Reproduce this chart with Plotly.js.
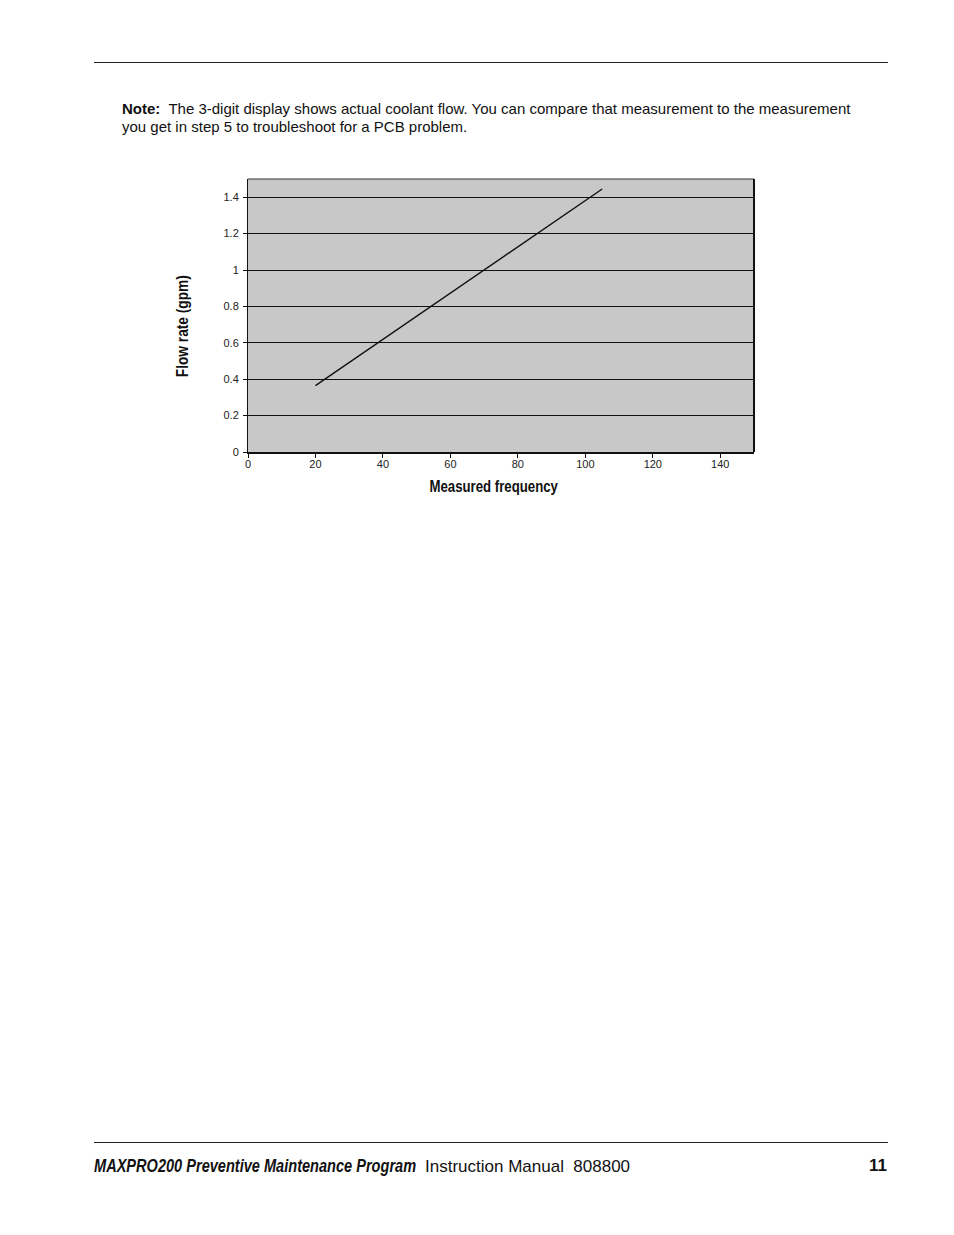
<!DOCTYPE html>
<html>
<head>
<meta charset="utf-8">
<script src="https://cdn.plot.ly/plotly-3.0.1.min.js"></script>
<style>
  body { margin: 0; background: #fff; font-family: "Liberation Sans", Arial, sans-serif; }
  #page { position: relative; width: 954px; height: 1235px; overflow: hidden; }
  #plot { position: absolute; left: 0; top: 0; width: 954px; height: 1235px; }
  .rule { position: absolute; left: 94px; width: 794px; height: 1px; background: #222; }
  .note { position: absolute; left: 122px; top: 100px; font-size: 15px; line-height: 18px; color: #111; white-space: nowrap; }
  .ft { position: absolute; top: 1156px; color: #111; white-space: nowrap; }
  .doc { left: 94px; font-weight: bold; font-style: italic; font-size: 18px; transform-origin: 0 50%; }
  .man { left: 425px; font-size: 17px; top: 1157px; }
  .num { right: 67px; font-weight: bold; font-size: 17px; }
</style>
</head>
<body>
<div id="page">
  <div id="plot"></div>
  <div class="rule" style="top:62px"></div>
  <div class="note"><b>Note:</b>&nbsp; The 3-digit display shows actual coolant flow. You can compare that measurement to the measurement<br>you get in step 5 to troubleshoot for a PCB problem.</div>
  <div class="rule" style="top:1142px"></div>
  <div class="ft doc" id="docTitle">MAXPRO200 Preventive Maintenance Program</div>
  <div class="ft man">Instruction Manual&nbsp; 808800</div>
  <div class="ft num">11</div>
</div>
<script>
// values
const frequency = [20, 105];
const flowRate = [0.365, 1.445];
const xTicks = [0, 20, 40, 60, 80, 100, 120, 140];
const yTicks = [0, 0.2, 0.4, 0.6, 0.8, 1, 1.2, 1.4];

const trace = {
  type: "scatter",
  mode: "lines",
  x: frequency,
  y: flowRate,
  line: { color: "#111111", width: 1.4 },
  hoverinfo: "skip",
};

const layout = {
  width: 954,
  height: 1235,
  paper_bgcolor: "rgba(0,0,0,0)",
  plot_bgcolor: "#c8c8c8",
  showlegend: false,
  margin: { l: 248, r: 200, t: 179, b: 783 },
  font: { family: '"Liberation Sans", Arial, sans-serif', color: "#222", size: 11 },
  xaxis: {
    range: [0, 150],
    tickvals: xTicks,
    ticktext: xTicks.map(String),
    showgrid: false,
    zeroline: false,
    showline: true,
    linecolor: "#111",
    linewidth: 2,
    ticks: "outside",
    ticklen: 4,
    tickcolor: "#111",
    ticklabelstandoff: -3,
    tickfont: { size: 11 },
  },
  yaxis: {
    range: [0, 1.5],
    tickvals: yTicks,
    ticktext: yTicks.map(String),
    showgrid: true,
    gridcolor: "#111",
    gridwidth: 1,
    zeroline: false,
    showline: true,
    linecolor: "#111",
    linewidth: 1,
    ticks: "outside",
    ticklen: 4,
    tickcolor: "#111",
    ticklabelstandoff: 2,
    tickfont: { size: 11 },
  },
  shapes: [
    { type: "line", xref: "paper", yref: "paper", x0: 0, x1: 1, y0: 1, y1: 1, line: { color: "#333", width: 1 } },
    { type: "line", xref: "paper", yref: "paper", x0: 1, x1: 1, y0: 0, y1: 1, line: { color: "#111", width: 2 } },
  ],
  annotations: [
    {
      text: "<b>Flow rate (gpm)</b>",
      xref: "paper", yref: "paper", x: 0, y: 0.5,
      xanchor: "center", yanchor: "middle",
      xshift: -65, yshift: -11,
      textangle: -90, showarrow: false,
      font: { size: 17, color: "#111" },
    },
    {
      text: "<b>Measured frequency</b>",
      xref: "paper", yref: "paper", x: 0.5, y: 0,
      xanchor: "center", yanchor: "middle",
      xshift: -7, yshift: -34,
      showarrow: false,
      font: { size: 17, color: "#111" },
    },
  ],
};

// squeeze a text run to the condensed width of the printed type
function condense(el, width) {
  const box = el.getBBox();
  const cx = box.x + box.width / 2;
  const sx = width / box.width;
  el.setAttribute("transform", `translate(${cx},0) scale(${sx},1) translate(${-cx},0)`);
}

Plotly.newPlot("plot", [trace], layout, { staticPlot: true, displayModeBar: false }).then(() => {
  const texts = document.querySelectorAll("#plot .annotation-text");
  if (texts[0]) condense(texts[0], 102);
  if (texts[1]) condense(texts[1], 129);
  const doc = document.getElementById("docTitle");
  doc.style.transform = `scaleX(${322 / doc.offsetWidth})`;
});
</script>
</body>
</html>
